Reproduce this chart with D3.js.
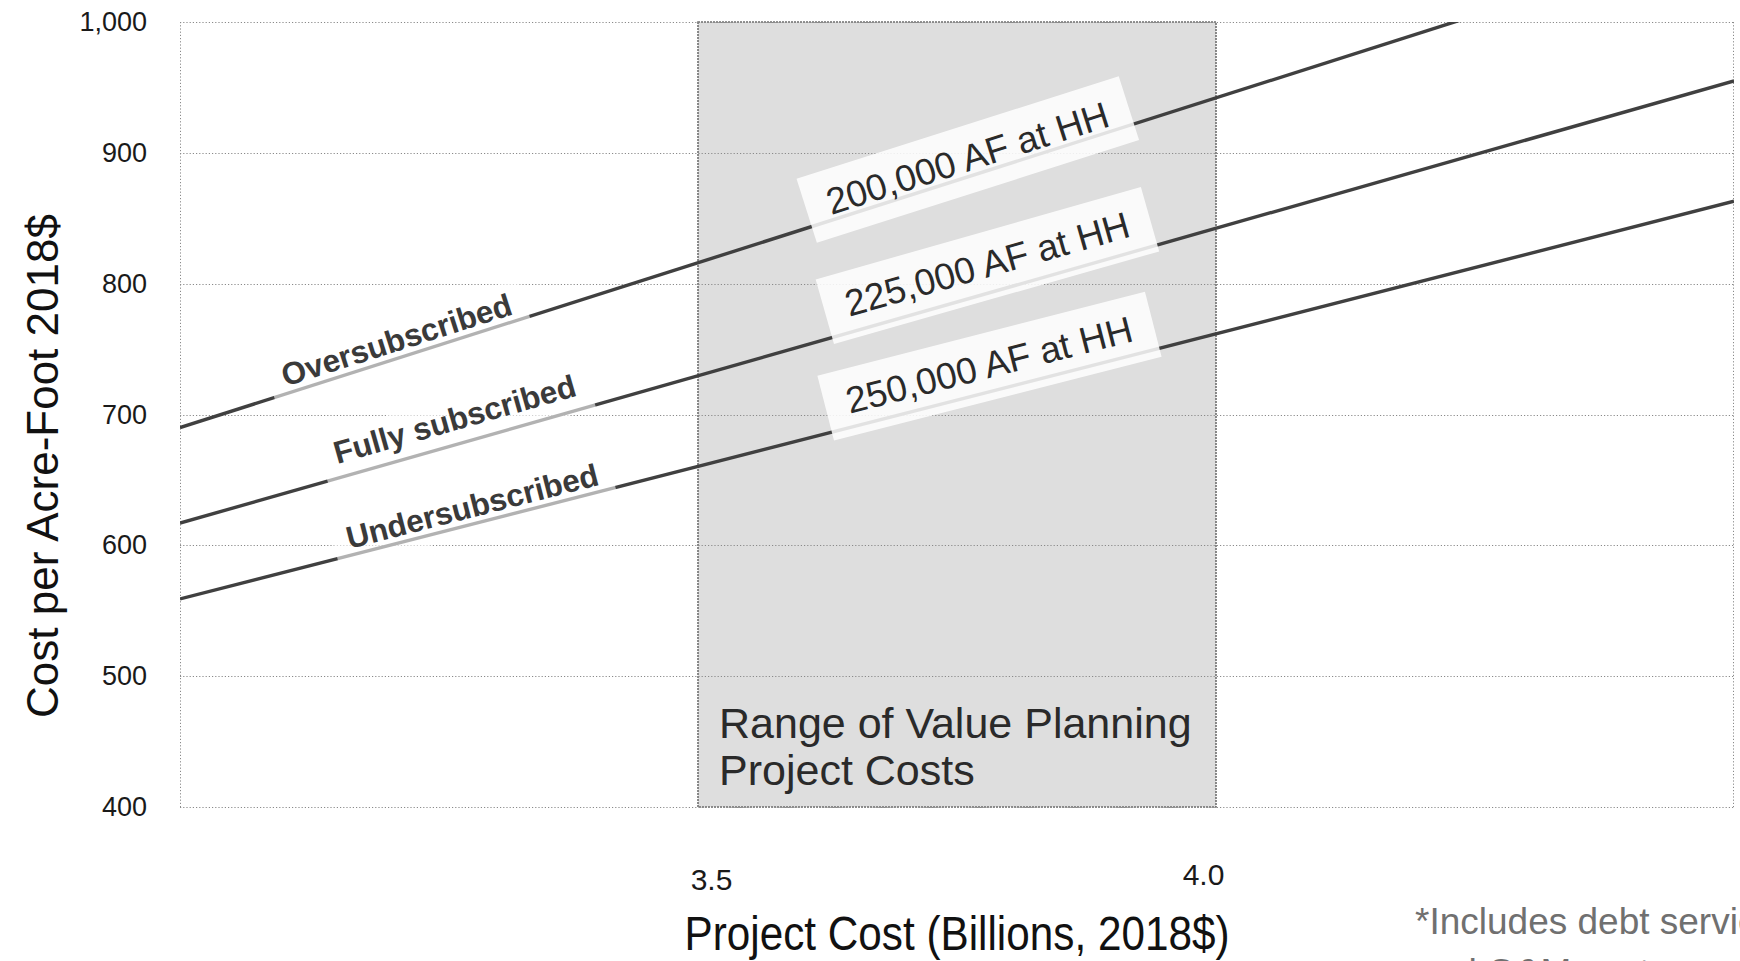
<!DOCTYPE html>
<html>
<head>
<meta charset="utf-8">
<script src="https://cdn.jsdelivr.net/npm/d3@7"></script>
<style>
  html, body { margin: 0; padding: 0; background: #ffffff; }
  svg { display: block; font-family: "Liberation Sans", Arial, Helvetica, sans-serif; }
</style>
</head>
<body>
<svg id="chart" width="1740" height="961"></svg>
<script>
// Project cost (billions, 2018$) at the two ends of the x range
const projectCost = [3.0, 4.5];
// Cost per acre-foot (2018$) at those project costs, one array per delivery volume
const costPerAF200k = [690, 1068];
const costPerAF225k = [617, 955];
const costPerAF250k = [559, 863];

const volumeNames = ["200,000 AF at HH", "225,000 AF at HH", "250,000 AF at HH"];
const subscriptionNames = ["Oversubscribed", "Fully subscribed", "Undersubscribed"];

const yTickValues = [400, 500, 600, 700, 800, 900, 1000];
const xTickValues = [3.5, 4.0];

// Value-planning cost range (billions)
const planningRange = [3.5, 4.0];
const planningLabel = ["Range of Value Planning", "Project Costs"];

// Label anchors in data units (cost, cost per AF)
const volumeLabelCost = [3.760, 3.779, 3.781];
const volumeLabelValue = [896, 815, 738];
const subscriptionLabelCost = [3.209, 3.265, 3.282];
const subscriptionLabelValue = [757, 696.5, 630];

const footnote = ["*Includes debt service", "and O&M costs"];

const seriesValues = [costPerAF200k, costPerAF225k, costPerAF250k];

const svg = d3.select("#chart");
const plot = { left: 180, right: 1734, top: 22, bottom: 807 };

const x = d3.scaleLinear().domain([projectCost[0], projectCost[1]]).range([plot.left, plot.right]);
const y = d3.scaleLinear().domain([400, 1000]).range([plot.bottom, plot.top]);

svg.append("defs").append("clipPath").attr("id", "plot-clip")
  .append("rect")
  .attr("x", plot.left).attr("y", plot.top)
  .attr("width", plot.right - plot.left).attr("height", plot.bottom - plot.top);

// Shaded planning-cost band
svg.append("rect")
  .attr("x", x(planningRange[0]))
  .attr("y", y(1000))
  .attr("width", x(planningRange[1]) - x(planningRange[0]))
  .attr("height", y(400) - y(1000))
  .attr("fill", "#dedede")
  .attr("stroke", "#6f6f6f")
  .attr("stroke-width", 1.6)
  .attr("stroke-dasharray", "2,1");

// Dotted gridlines and plot frame
const grid = svg.append("g").attr("stroke", "#8a8a8a").attr("stroke-width", 1).attr("stroke-dasharray", "1.2,2").attr("fill", "none");
grid.selectAll("line.h").data(yTickValues).join("line")
  .attr("x1", plot.left).attr("x2", plot.right)
  .attr("y1", d => Math.round(y(d)) + 0.5).attr("y2", d => Math.round(y(d)) + 0.5);
grid.append("line").attr("x1", plot.left + 0.5).attr("x2", plot.left + 0.5).attr("y1", plot.top).attr("y2", plot.bottom);
grid.append("line").attr("x1", plot.right - 0.5).attr("x2", plot.right - 0.5).attr("y1", plot.top).attr("y2", plot.bottom);

// Band caption
const bandText = svg.append("text")
  .attr("x", x(planningRange[0]) + 21)
  .attr("y", 738)
  .attr("font-size", 43)
  .attr("fill", "#2a2a2a");
bandText.selectAll("tspan").data(planningLabel).join("tspan")
  .attr("x", x(planningRange[0]) + 21)
  .attr("dy", (d, i) => i === 0 ? 0 : 47)
  .text(d => d);

// Cost lines
const line = d3.line().x((d, i) => x(projectCost[i])).y(d => y(d));
svg.append("g").attr("clip-path", "url(#plot-clip)")
  .selectAll("path").data(seriesValues).join("path")
  .attr("d", d => line(d))
  .attr("fill", "none")
  .attr("stroke", "#404040")
  .attr("stroke-width", 3.4);

// Slope angle of each line on screen
const angles = seriesValues.map(v =>
  Math.atan2(y(v[1]) - y(v[0]), x(projectCost[1]) - x(projectCost[0])) * 180 / Math.PI);

function rotatedLabel(text, cx, cy, angle, opts) {
  const g = svg.append("g").attr("transform", `translate(${cx},${cy}) rotate(${angle})`);
  const rect = g.append("rect").attr("fill", "#ffffff").attr("opacity", opts.boxOpacity);
  const t = g.append("text")
    .attr("text-anchor", "middle")
    .attr("dy", "0.35em")
    .attr("font-size", opts.size)
    .attr("font-weight", opts.weight)
    .attr("fill", opts.color)
    .text(text);
  const bb = t.node().getBBox();
  rect.attr("x", bb.x - opts.padX).attr("y", bb.y - opts.padTop)
    .attr("width", bb.width + 2 * opts.padX)
    .attr("height", bb.height + opts.padTop + opts.padBottom);
}

volumeNames.forEach((name, i) => {
  rotatedLabel(name, x(volumeLabelCost[i]), y(volumeLabelValue[i]), angles[i],
    { size: 37, weight: "normal", color: "#2a2a2a", boxOpacity: 0.85, padX: 22, padTop: 12, padBottom: 14 });
});
subscriptionNames.forEach((name, i) => {
  rotatedLabel(name, x(subscriptionLabelCost[i]), y(subscriptionLabelValue[i]), angles[i],
    { size: 31.5, weight: "bold", color: "#3a3a3a", boxOpacity: 0.6, padX: 14, padTop: 4, padBottom: 10 });
});

// Y axis
const yAxis = svg.append("g")
  .attr("transform", `translate(${plot.left},0)`)
  .call(d3.axisLeft(y).tickValues(yTickValues).tickFormat(d3.format(",")).tickSize(0).tickPadding(33));
yAxis.select(".domain").remove();
yAxis.selectAll("text").attr("font-size", 27).attr("fill", "#1a1a1a")
  .attr("font-family", "\"Liberation Sans\", Arial, sans-serif");

// X axis: labels only
const xAxis = svg.append("g")
  .attr("transform", `translate(0,${plot.bottom})`)
  .call(d3.axisBottom(x).tickValues(xTickValues).tickFormat(d3.format(".1f")).tickSize(0).tickPadding(0));
xAxis.select(".domain").remove();
xAxis.selectAll("text")
  .attr("font-size", 30).attr("fill", "#1a1a1a")
  .attr("font-family", "\"Liberation Sans\", Arial, sans-serif")
  .attr("dy", null)
  .attr("y", (d, i) => i === 0 ? 83 : 78)
  .attr("dx", (d, i) => i === 0 ? 13 : -13);

// Axis titles
svg.append("text")
  .attr("transform", "translate(58,466) rotate(-90)")
  .attr("text-anchor", "middle")
  .attr("font-size", 44)
  .attr("fill", "#111")
  .text("Cost per Acre-Foot 2018$");

svg.append("text")
  .attr("x", 957).attr("y", 950)
  .attr("text-anchor", "middle")
  .attr("font-size", 49)
  .attr("textLength", 545)
  .attr("lengthAdjust", "spacingAndGlyphs")
  .attr("fill", "#111")
  .text("Project Cost (Billions, 2018$)");

// Footnote (runs past the right and bottom edges of the page)
svg.append("g").selectAll("text").data(footnote).join("text")
  .attr("x", 1415)
  .attr("y", (d, i) => 934 + i * 51)
  .attr("font-size", 37)
  .attr("fill", "#707070")
  .text(d => d);
</script>
</body>
</html>
